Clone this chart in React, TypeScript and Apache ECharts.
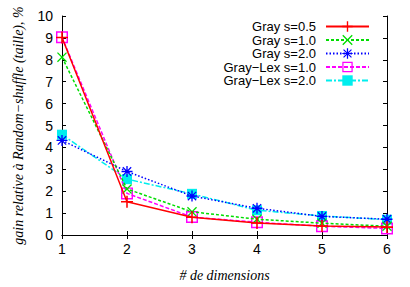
import React, { useEffect, useRef } from "react";
import * as echarts from "echarts";

const dims = [1, 2, 3, 4, 5, 6];
const seriesNames = ["Gray s=0.5", "Gray s=1.0", "Gray s=2.0", "Gray\u2212Lex s=1.0", "Gray\u2212Lex s=2.0"];
const grayS05 = [9.02, 1.52, 0.81, 0.55, 0.41, 0.36];
const grayS10 = [8.12, 2.1, 1.06, 0.72, 0.54, 0.4];
const grayS20 = [4.32, 2.9, 1.78, 1.22, 0.85, 0.72];
const lexS10 = [9.03, 1.9, 0.82, 0.58, 0.4, 0.3];
const lexS20 = [4.58, 2.55, 1.88, 1.13, 0.87, 0.7];
const yTicks = [0, 10];

const PLUS = "path://M0,4.35H10V5.65H0Z M4.35,0H5.65V10H4.35Z";
const CROSS = "path://M0,0.9L0.9,0L10,9.1L9.1,10Z M9.1,0L10,0.9L0.9,10L0,9.1Z";
const STAR = "path://M0,4.4H10V5.6H0Z M4.4,0H5.6V10H4.4Z M0.8,1.6L1.6,0.8L9.2,8.4L8.4,9.2Z M8.4,0.8L9.2,1.6L1.6,9.2L0.8,8.4Z";
const HOLLOW = "path://M0,0H10V10H0Z M1.2,1.2V8.8H8.8V1.2Z";

export default function App() {
  const ref = useRef<HTMLDivElement>(null);
  useEffect(() => {
    if (!ref.current) return;
    const chart = echarts.init(ref.current, null, { renderer: "svg" });
    const valuesList = [grayS05, grayS10, grayS20, lexS10, lexS20];
    const colors = ["#ff0000", "#00dd00", "#0000ff", "#ff00ff", "#00eeee"];
    const symbols = [PLUS, CROSS, STAR, HOLLOW, "rect"];
    const sizes = [12, 10, 11, 12, 10];
    const lineTypes: any[] = ["solid", [3, 2], [1.5, 2], [4, 2], [6, 2, 2, 2]];
    const series = valuesList.map((vals, i) => ({
      name: seriesNames[i],
      type: "line",
      data: dims.map((d, j) => [d, vals[j]]),
      symbol: symbols[i],
      symbolSize: sizes[i],
      showAllSymbol: true,
      z: 10 - i,
      lineStyle: { color: colors[i], width: 1.5, type: lineTypes[i] },
      itemStyle: { color: colors[i] },
      emphasis: { disabled: true },
    }));
    const legendTops = [20, 33.5, 47, 60.5, 74];
    const legends = seriesNames.map((n, i) => ({
      data: [n],
      right: 40,
      top: legendTops[i],
      orient: "horizontal",
      align: "right",
      padding: 0,
      itemWidth: 43,
      itemHeight: 13,
      selectedMode: false,
      textStyle: { fontFamily: "Liberation Sans", fontSize: 13, lineHeight: 13, color: "#000", padding: [0, 5, 0, 0] },
    }));
    const tickStyle = { inside: true, length: 4, lineStyle: { color: "#000" } };
    const lineStyle = { show: true, lineStyle: { color: "#000", width: 1 } };
    chart.setOption({
      animation: false,
      grid: { left: 62, right: 23, top: 16, bottom: 41 },
      legend: legends,
      xAxis: [
        {
          type: "value",
          min: dims[0],
          max: dims[dims.length - 1],
          interval: 1,
          position: "bottom",
          name: "# de dimensions",
          nameLocation: "middle",
          nameGap: 33,
          nameTextStyle: { fontFamily: "Liberation Serif", fontStyle: "italic", fontSize: 14, color: "#000" },
          axisLine: lineStyle,
          axisTick: tickStyle,
          splitLine: { show: false },
          axisLabel: { fontFamily: "Liberation Sans", fontSize: 14, color: "#000", margin: 7 },
        },
        {
          type: "value",
          min: dims[0],
          max: dims[dims.length - 1],
          interval: 1,
          position: "top",
          axisLine: lineStyle,
          axisTick: tickStyle,
          splitLine: { show: false },
          axisLabel: { show: false },
        },
      ],
      yAxis: [
        {
          type: "value",
          min: yTicks[0],
          max: yTicks[1],
          interval: 1,
          position: "left",
          name: "gain relative \u00e0 Random\u2212shuffle (taille), %",
          nameLocation: "middle",
          nameGap: 37,
          nameTextStyle: { fontFamily: "Liberation Serif", fontStyle: "italic", fontSize: 14, color: "#000" },
          axisLine: lineStyle,
          axisTick: tickStyle,
          splitLine: { show: false },
          axisLabel: { fontFamily: "Liberation Sans", fontSize: 14, color: "#000", margin: 9 },
        },
        {
          type: "value",
          min: yTicks[0],
          max: yTicks[1],
          interval: 1,
          position: "right",
          axisLine: lineStyle,
          axisTick: tickStyle,
          splitLine: { show: false },
          axisLabel: { show: false },
        },
      ],
      series,
    });
    return () => chart.dispose();
  }, []);
  return <div ref={ref} style={{ position: "absolute", left: 0, top: 0, width: 410, height: 287 }} />;
}
